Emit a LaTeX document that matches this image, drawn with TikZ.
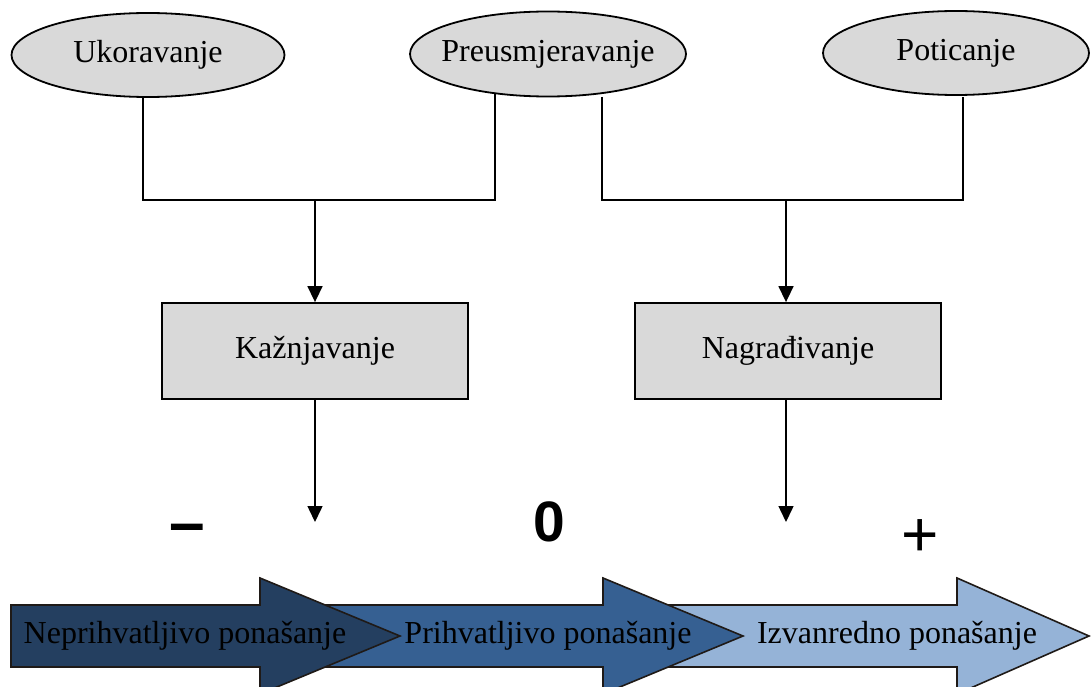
\documentclass[tikz,border=0pt]{standalone}
\usepackage{fontspec}
\setmainfont{Liberation Serif}
\newfontfamily\symfont{Liberation Sans}
\usetikzlibrary{arrows.meta,shapes.geometric,backgrounds}
\definecolor{boxgray}{HTML}{D9D9D9}
\definecolor{darknavy}{HTML}{243F60}
\definecolor{midblue}{HTML}{366092}
\definecolor{lightblue}{HTML}{95B3D7}
\definecolor{outl}{HTML}{1F1A17}
\tikzset{
  oval/.style={ellipse,draw=black,line width=1.8pt,fill=boxgray,inner ysep=0pt,inner xsep=-60pt,
    font=\fontsize{32}{36}\selectfont},
  rbox/.style={rectangle,draw=black,line width=1.8pt,fill=boxgray,inner sep=0pt,
    minimum width=306pt,minimum height=96pt,font=\fontsize{32}{36}\selectfont},
  conn/.style={line width=1.5pt,draw=black},
  arr/.style={conn,-{Triangle[width=15pt,length=16pt]}},
  barrow/.style={draw=outl,line width=1.6pt,line join=miter},
  btext/.style={inner sep=0pt,font=\fontsize{32}{36}\selectfont},
  sym/.style={inner sep=0pt,font=\symfont\fontsize{64}{70}\selectfont}
}
\begin{document}
\begin{tikzpicture}[x=1pt,y=-1pt]
\useasboundingbox (0,0) rectangle (1091,687);
% ellipses
\node[oval,minimum width=273pt,minimum height=84pt] (uko) at (148,55) {Ukoravanje};
\node[oval,minimum width=276pt,minimum height=85pt] (pre) at (548,54) {Preusmjeravanje};
\node[oval,minimum width=266pt,minimum height=84pt] (pot) at (956,53) {Poticanje};
% boxes
\node[rbox] (kaz) at (315,351) {Kažnjavanje};
\node[rbox] (nag) at (788,351) {Nagrađivanje};
% junctions and ends
\coordinate (j1) at (315,200);
\coordinate (j2) at (786,200);
\coordinate (e1) at (315,522);
\coordinate (e2) at (786,522);
\begin{scope}[on background layer]
\draw[conn] ([xshift=-5pt]uko.center) |- (j1) -| ([xshift=-53pt]pre.center);
\end{scope}
\draw[conn] ([xshift=54pt,yshift=-43pt]pre.center) |- (j2) -| ([xshift=7pt,yshift=-44pt]pot.center);
\draw[arr] (j1) -- (kaz.north);
\draw[arr] (j2) -- (j2 |- nag.north);
\draw[arr] (kaz.south) -- (e1);
\draw[arr] (e2 |- nag.south) -- (e2);
% symbols
\node[sym,font=\symfont\bfseries\fontsize{64}{70}\selectfont] (minus) at (187,534) {–};
\node[sym,font=\symfont\bfseries\fontsize{57}{64}\selectfont] (zero) at (549,522) {0};
\node[sym] (plus) at (920,538) {+};
% bottom block arrows
\draw[barrow,fill=lightblue] (640,605) -- (957,605) -- (957,578) -- (1089,636) -- (957,694) -- (957,667) -- (640,667) -- cycle;
\draw[barrow,fill=midblue] (300,605) -- (603,605) -- (603,578) -- (743,636) -- (603,694) -- (603,667) -- (300,667) -- cycle;
\draw[barrow,fill=darknavy] (11,605) -- (260,605) -- (260,578) -- (400,636) -- (260,694) -- (260,667) -- (11,667) -- cycle;
\node[btext] (t1) at (185,636) {Neprihvatljivo ponašanje};
\node[btext] (t2) at (548,636) {Prihvatljivo ponašanje};
\node[btext] (t3) at (897,636) {Izvanredno ponašanje};
\end{tikzpicture}
\end{document}
